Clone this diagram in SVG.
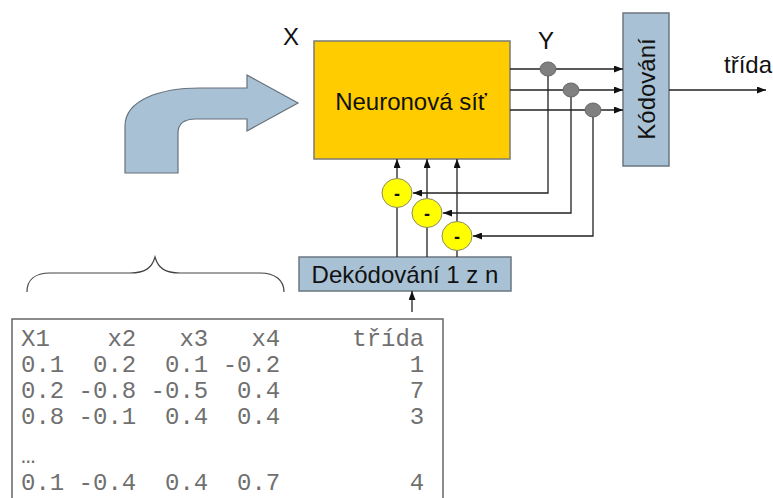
<svg xmlns="http://www.w3.org/2000/svg" width="773" height="498" viewBox="0 0 773 498">
<defs>
<marker id="ah" markerWidth="9" markerHeight="7" refX="9" refY="3.5" orient="auto" markerUnits="userSpaceOnUse">
<path d="M0,0 L9,3.5 L0,7 Z" fill="#111"/>
</marker>
<style>
.lbl{font-family:"Liberation Sans",Arial,sans-serif;font-size:24px;fill:#111}
.blue{fill:#A9C1D4;stroke:#6b7780;stroke-width:1.5}
.ln{fill:none;stroke:#222;stroke-width:1.3}
.arr{marker-end:url(#ah)}
.dot{fill:#808080;stroke:#666;stroke-width:1}
.minus{fill:#FFFF00;stroke:#8a8a6a;stroke-width:1}
.mt{font-family:"Liberation Sans",Arial,sans-serif;font-size:18px;font-weight:bold;fill:#111;text-anchor:middle}
.mono{font-family:"Liberation Mono","Courier New",monospace;font-size:24px;fill:#707070;white-space:pre}
</style>
</defs>
<rect width="773" height="498" fill="#fff"/>

<g id="bent-arrow">
<path d="M125,173 L125,126 C125,100 160,88 200,88 L247,88 L247,75 L298,103 L247,131 L247,119 L196,119 C184,119 178,124 178,133 L178,173 Z" fill="#A9C1D4" stroke="#66727c" stroke-width="1.2"/>
</g>

<g id="label-x"><text class="lbl" x="283" y="45">X</text></g>
<g id="label-y"><text class="lbl" x="538" y="49">Y</text></g>

<g id="neural-net">
<rect x="314" y="41" width="196" height="118" fill="#FFCC00" stroke="#7a7a7a" stroke-width="1.5"/>
<text class="lbl" x="411" y="110" text-anchor="middle">Neuronová síť</text>
</g>

<g id="coding">
<rect class="blue" x="623" y="13" width="46" height="153"/>
<text class="lbl" transform="translate(655,89) rotate(-90)" text-anchor="middle">Kódování</text>
</g>

<g id="decoding">
<rect class="blue" x="299" y="257" width="212" height="34"/>
<text class="lbl" x="405" y="283" text-anchor="middle">Dekódování 1 z n</text>
</g>

<g id="label-trida"><text class="lbl" x="724" y="73">třída</text></g>

<g id="connectors">
<line class="ln arr" x1="510" y1="69" x2="623" y2="69"/>
<line class="ln arr" x1="510" y1="90" x2="623" y2="90"/>
<line class="ln arr" x1="510" y1="110" x2="623" y2="110"/>
<line class="ln arr" x1="669" y1="90" x2="766" y2="90"/>
<polyline class="ln arr" points="548,69 548,193 413,193"/>
<polyline class="ln arr" points="571,90 571,213 443,213"/>
<polyline class="ln arr" points="593,110 593,236 473,236"/>
<line class="ln arr" x1="397" y1="257" x2="397" y2="159"/>
<line class="ln arr" x1="427" y1="257" x2="427" y2="159"/>
<line class="ln arr" x1="457" y1="257" x2="457" y2="159"/>
<line class="ln arr" x1="412" y1="312" x2="412" y2="291"/>
</g>

<g id="tap1"><ellipse class="dot" cx="548" cy="69" rx="8" ry="7"/></g>
<g id="tap2"><ellipse class="dot" cx="571" cy="90" rx="8" ry="7"/></g>
<g id="tap3"><ellipse class="dot" cx="593" cy="110" rx="8" ry="7"/></g>

<g id="sub1"><ellipse class="minus" cx="397" cy="193" rx="15" ry="14.5"/><text class="mt" x="397" y="200">-</text></g>
<g id="sub2"><ellipse class="minus" cx="427" cy="213" rx="15" ry="14.5"/><text class="mt" x="427" y="220">-</text></g>
<g id="sub3"><ellipse class="minus" cx="457" cy="236" rx="15" ry="14.5"/><text class="mt" x="457" y="243">-</text></g>

<g id="brace">
<path d="M27,292 C27,280 35,273 50,273 L130,273 C145,273 152,268 155,257 C158,268 165,273 180,273 L260,273 C275,273 284,280 284,292" fill="none" stroke="#444" stroke-width="1.2"/>
</g>

<g id="data-table">
<rect x="12" y="319" width="431" height="200" fill="#fff" stroke="#666" stroke-width="1.5"/>
<text class="mono" xml:space="preserve" x="21" y="346">X1    x2   x3   x4     třída</text>
<text class="mono" xml:space="preserve" x="21" y="372">0.1  0.2  0.1 -0.2         1</text>
<text class="mono" xml:space="preserve" x="21" y="398">0.2 -0.8 -0.5  0.4         7</text>
<text class="mono" xml:space="preserve" x="21" y="424">0.8 -0.1  0.4  0.4         3</text>
<text class="mono" xml:space="preserve" x="21" y="463">…</text>
<text class="mono" xml:space="preserve" x="21" y="490">0.1 -0.4  0.4  0.7         4</text>
</g>
</svg>
